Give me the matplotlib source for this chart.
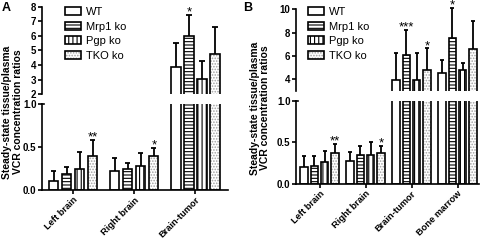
import matplotlib
matplotlib.use('Agg')
import matplotlib.pyplot as plt
from matplotlib.patches import Patch
from matplotlib.legend_handler import HandlerTuple

plt.rcParams['font.family'] = ['Liberation Sans', 'DejaVu Sans']
plt.rcParams['hatch.linewidth'] = 0.8

W, H = 480, 240

SERIES = ['WT', 'Mrp1 ko', 'Pgp ko', 'TKO ko']

# panel A: mean and SD per tissue, series order as SERIES
A_TISSUES = ['Left brain', 'Right brain', 'Brain-tumor']
A_MEAN = [[0.11, 0.19, 0.24, 0.39],
          [0.22, 0.24, 0.28, 0.39],
          [3.9, 6.0, 3.05, 4.75]]
A_SD = [[0.11, 0.08, 0.20, 0.19],
        [0.15, 0.07, 0.15, 0.10],
        [1.6, 1.45, 1.25, 1.85]]
A_STARS = [['', '', '', '**'],
           ['', '', '', '*'],
           ['', '*', '', '']]

# panel B
B_TISSUES = ['Left brain', 'Right brain', 'Brain-tumor', 'Bone marrow']
B_MEAN = [[0.20, 0.22, 0.26, 0.375],
          [0.28, 0.35, 0.35, 0.375],
          [3.9, 6.1, 3.9, 4.8],
          [4.5, 7.5, 4.8, 6.55]]
B_SD = [[0.13, 0.12, 0.13, 0.105],
        [0.10, 0.11, 0.15, 0.085],
        [2.3, 2.1, 2.3, 1.85],
        [1.1, 2.6, 0.55, 2.45]]
B_STARS = [['', '', '', '**'],
           ['', '', '', '*'],
           ['', '***', '', '*'],
           ['', '*', '', '']]

YLABEL = 'Steady-state tissue/plasma\nVCR concentration ratios'


def box(left, top, right, bottom):
    return [left / W, 1 - bottom / H, (right - left) / W, (bottom - top) / H]


def bar(ax, x, h, i, width):
    if i == 3:
        ax.bar(x, h, width, color='white', edgecolor='#a0a0a0', hatch='......', lw=0)
        ax.bar(x, h, width, fill=False, edgecolor='k', lw=1.2)
    else:
        hatch = ['', '-----', '||||'][i]
        ax.bar(x, h, width, color='white', edgecolor='k', hatch=hatch, lw=1.2)


def panel(fig, letter, tissues, means, sds, stars, upper, lower, ylim_up, yticks_up,
          xlim, gap, width, ylab_xy, leg_x, letter_x):
    ax_up = fig.add_axes(box(*upper))
    ax_lo = fig.add_axes(box(*lower))
    centers = [g * gap for g in range(len(tissues))]
    for g, c in enumerate(centers):
        for i in range(4):
            x = c + i - 1.5
            m, sd = means[g][i], sds[g][i]
            for ax in (ax_up, ax_lo):
                bar(ax, x, m, i, width)
            top = m + sd
            ax = ax_up if top > 1 else ax_lo
            ax.vlines(x, m, top, color='k', lw=1.3, clip_on=False, zorder=3)
            ax.hlines(top, x - 0.2, x + 0.2, color='k', lw=1.3, clip_on=False, zorder=3)
            if stars[g][i]:
                ax.annotate(stars[g][i], (x, top), xytext=(0, -0.5),
                            textcoords='offset points', ha='center', va='baseline',
                            fontsize=9.5, annotation_clip=False)

    for ax in (ax_up, ax_lo):
        ax.set_xlim(*xlim)
        ax.spines[['top', 'right']].set_visible(False)
        for s in ax.spines.values():
            s.set_linewidth(1.2)
        ax.tick_params(width=1.2, length=3, labelsize=7, pad=1)

    ax_up.set_ylim(*ylim_up)
    ax_up.set_yticks(yticks_up)
    ax_up.set_yticklabels([str(v) for v in yticks_up], fontweight='bold')
    ax_up.spines['bottom'].set_visible(False)
    ax_up.set_xticks([])

    ax_lo.set_ylim(0, 1)
    ax_lo.set_yticks([0, 0.5, 1.0])
    ax_lo.set_yticklabels(['0.0', '0.5', '1.0'], fontweight='bold')
    ax_lo.plot([0, 0.012], [1, 1], transform=ax_lo.transAxes, color='k', lw=1.2,
               clip_on=False)
    ax_lo.set_xticks(centers)
    ax_lo.set_xticklabels(tissues, rotation=45, ha='right', rotation_mode='anchor',
                          fontsize=6.7, fontweight='bold')

    fig.text(ylab_xy[0] / W, 1 - ylab_xy[1] / H, YLABEL, rotation=90, ha='center',
             va='center', fontsize=7.5, fontweight='bold', linespacing=1.1)
    fig.text(letter_x / W, 1 - 2 / H, letter, ha='left', va='top', fontsize=9,
             fontweight='bold')

    handles = [Patch(facecolor='white', edgecolor='k', lw=1.2),
               Patch(facecolor='white', edgecolor='k', hatch='-----', lw=1.2),
               Patch(facecolor='white', edgecolor='k', hatch='||||', lw=1.2),
               (Patch(facecolor='white', edgecolor='#a0a0a0', hatch='......', lw=0),
                Patch(fill=False, edgecolor='k', lw=1.2))]
    ax_up.legend(handles, SERIES, loc='upper left', frameon=False, fontsize=8,
                 bbox_to_anchor=(leg_x / W, 1 - 7 / H), bbox_transform=fig.transFigure,
                 borderpad=0, borderaxespad=0, handlelength=1.4, handleheight=0.72,
                 handletextpad=0.5, labelspacing=0.42,
                 handler_map={tuple: HandlerTuple(ndivide=1, pad=0)})


fig = plt.figure(figsize=(4.8, 2.4), dpi=100)
panel(fig, 'A', A_TISSUES, A_MEAN, A_SD, A_STARS,
      (42, 6.7, 228, 94.3), (42, 104, 228, 190), (2, 8), [2, 3, 4, 5, 6, 7, 8],
      (-2.4, 11.9), 4.7, 0.7, (12.5, 112), 65, 2)
panel(fig, 'B', B_TISSUES, B_MEAN, B_SD, B_STARS,
      (296, 9.3, 479, 90.7), (296, 101, 479, 183.7), (3, 10), [4, 6, 8, 10],
      (-2.3, 15.6), 4.5, 0.75, (260, 108), 308, 243)
fig.savefig('out.png', dpi=100)
